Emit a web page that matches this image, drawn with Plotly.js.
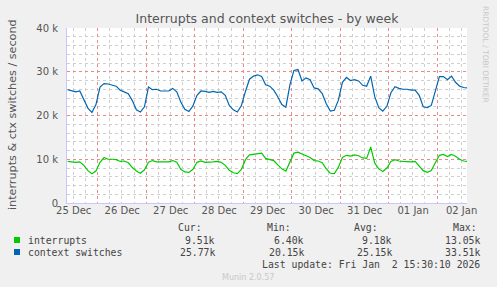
<!DOCTYPE html>
<html>
<head>
<meta charset="utf-8">
<script src="https://cdn.plot.ly/plotly-3.0.1.min.js"></script>
<style>
html,body{margin:0;padding:0;background:#F0F0F0;}
#chart{width:497px;height:287px;}
</style>
</head>
<body>
<div id="chart"></div>
<script>
// ---- data (2-hour samples starting 2025-12-25 09:00) ----
var startTime = "2025-12-25T09:00:00";
var stepHours = 2;
var interrupts = [
 9.5,9.4,9.3,9.4,8.6,7.4,6.7,7.3,9.3,10.4,10.0,10.0,9.9,9.5,9.6,9.2,8.1,7.3,6.8,7.6,
 9.3,9.7,9.4,9.4,9.4,9.4,9.7,9.3,7.7,7.1,7.0,7.7,9.3,9.6,9.3,9.3,9.4,9.5,9.3,8.6,
 7.5,6.9,6.7,7.7,9.9,11.0,11.1,11.2,11.4,10.2,10.0,9.7,8.7,7.8,7.3,9.5,11.4,11.6,11.2,10.9,
 10.4,9.7,9.6,9.2,7.8,6.8,6.7,8.2,10.4,10.9,10.7,11.0,10.8,10.3,10.2,12.8,9.1,7.8,7.2,8.0,
 9.5,9.9,9.6,9.5,9.4,9.4,9.5,8.5,7.4,7.0,7.4,9.2,10.9,11.1,10.6,11.1,10.7,10.0,9.6,9.5
];
var contextSwitches = [
 25.9,25.7,25.4,25.6,23.6,21.7,20.7,22.5,26.5,27.3,27.2,26.9,26.7,25.8,25.4,25.0,23.4,21.3,20.8,22.0,
 26.5,25.9,26.0,25.6,25.6,25.6,26.2,25.4,23.1,21.4,20.9,22.2,24.6,25.6,25.5,25.3,25.5,25.3,25.4,24.6,
 22.3,21.3,20.8,22.3,25.5,28.3,29.0,29.3,28.9,27.0,26.7,25.8,24.3,22.5,21.9,27.0,30.3,30.5,27.9,28.6,
 28.2,26.3,26.1,25.0,22.7,21.0,21.2,23.5,27.6,28.7,28.0,28.2,27.9,26.9,26.7,29.0,24.3,21.8,21.0,22.1,
 25.2,26.6,26.2,26.0,26.0,25.8,25.8,24.6,22.0,21.8,22.3,25.5,28.9,28.9,28.2,29.0,27.6,26.7,26.4,26.3
];
var dayDates = ["2025-12-25","2025-12-26","2025-12-27","2025-12-28","2025-12-29",
                "2025-12-30","2025-12-31","2026-01-01","2026-01-02"];
var dayLabels = ["25 Dec","26 Dec","27 Dec","28 Dec","29 Dec","30 Dec","31 Dec","01 Jan","02 Jan"];
var quarterHours = ["06:00", "12:00", "18:00"];
var yTickVals = [0, 10000, 20000, 30000, 40000];
var yTickText = ["0", "10 k", "20 k", "30 k", "40 k"];
var seriesNames = ["interrupts", "context switches"];
var seriesColors = ["#00CC00", "#0066B3"];
var statHeaders = ["Cur:", "Min:", "Avg:", "Max:"];
var statInterrupts = ["9.51k", "6.40k", "9.18k", "13.05k"];
var statContext = ["25.77k", "20.15k", "25.15k", "33.51k"];
var titleText = "Interrupts and context switches - by week";
var yTitleText = "interrupts & ctx switches / second";
var lastUpdate = "Last update: Fri Jan  2 15:30:10 2026";

var W = 497, H = 287, ML = 67, MR = 30, MT = 28, MB = 84;
var PW = W - ML - MR, PH = H - MT - MB;
function px(x){return (x - ML) / PW;}
function py(y){return (H - MB - y) / PH;}

// ---- build time axis ----
function pad(n){return (n<10?"0":"")+n;}
function ms(s){return Date.parse(s.replace(" ", "T") + "Z");}
var t0 = ms(startTime);
var times = [];
for (var i = 0; i < interrupts.length; i++) {
  var d = new Date(t0 + i * stepHours * 3600000);
  times.push(d.getUTCFullYear()+"-"+pad(d.getUTCMonth()+1)+"-"+pad(d.getUTCDate())+" "+pad(d.getUTCHours())+":"+pad(d.getUTCMinutes()));
}
function k(arr){return arr.map(function(v){return v*1000;});}
var xRange = ["2025-12-25 08:40", "2026-01-02 14:40"];
var r0 = ms(xRange[0]), msPerPx = (ms(xRange[1]) - r0) / PW;
// snap grid positions to a consistent sub-pixel phase so every dotted line renders alike
function snap(t){ var p = (t - r0) / msPerPx; var q = Math.round(p - 0.75) + 0.75; return r0 + q * msPerPx; }
var noonTicks = dayDates.map(function(s){return s + " 12:00";});
var midnightTicks = dayDates.map(function(s){return snap(ms(s + " 00:00"));});
var minorTicks = [];
dayDates.forEach(function(s){ quarterHours.forEach(function(h){ minorTicks.push(snap(ms(s + " " + h))); }); });

var traces = [
  {x: times, y: k(contextSwitches), type: "scatter", mode: "lines", name: seriesNames[1],
   xaxis: "x", yaxis: "y", line: {color: seriesColors[1], width: 1.2}},
  {x: times, y: k(interrupts), type: "scatter", mode: "lines", name: seriesNames[0],
   xaxis: "x2", yaxis: "y", line: {color: seriesColors[0], width: 1.2}},
  {x: [], y: [], xaxis: "x3", yaxis: "y", type: "scatter", mode: "lines", hoverinfo: "skip", showlegend: false}
];

var mono = {family: "DejaVu Sans Mono", size: 9.8, color: "#444"};
var ann = [];
function addText(text, x, y, anchor, font){
  ann.push({text: text, x: px(x), y: py(y), xref: "paper", yref: "paper",
    xanchor: anchor, yanchor: "middle", showarrow: false, font: font});
}
ann.push({text: yTitleText, x: px(12), y: py(115), xref: "paper", yref: "paper",
  textangle: -90, showarrow: false, xanchor: "center", yanchor: "middle",
  font: {family: "DejaVu Sans", size: 11.2, color: "#555"}});
ann.push({text: "RRDTOOL / TOBI OETIKER", x: px(486), y: py(54), xref: "paper", yref: "paper",
  textangle: 90, showarrow: false, xanchor: "center", yanchor: "middle",
  font: {family: "DejaVu Sans", size: 7.5, color: "#c8c8c8"}});
var hdrRight = [204, 293, 380, 479];
var valRight = [217, 306, 394, 482];
for (var j = 0; j < 4; j++) {
  addText(statHeaders[j], hdrRight[j], 227, "right", mono);
  addText(statInterrupts[j], valRight[j], 240, "right", mono);
  addText(statContext[j], valRight[j], 252, "right", mono);
}
addText(seriesNames[0], 26, 240, "left", mono);
addText(seriesNames[1], 26, 252, "left", mono);
addText(lastUpdate.replace(/  /g, "&nbsp; "), 482, 264, "right", mono);
addText("Munin 2.0.57", 248, 277, "center", {family: "DejaVu Sans", size: 8, color: "#c8c8c8"});

var shapes = [
  {type: "rect", xref: "paper", yref: "paper", x0: px(14), x1: px(20), y0: py(243), y1: py(237),
   fillcolor: seriesColors[0], line: {width: 0}},
  {type: "rect", xref: "paper", yref: "paper", x0: px(14), x1: px(20), y0: py(255), y1: py(249),
   fillcolor: seriesColors[1], line: {width: 0}}
];

var majorGrid = "#e88a8a";
var minorGrid = "#cfcfcf";
var layout = {
  width: W, height: H,
  margin: {l: ML, r: MR, t: MT, b: MB, pad: 0},
  paper_bgcolor: "#F0F0F0", plot_bgcolor: "#FFFFFF",
  showlegend: false,
  title: {text: titleText, x: 0.5, xref: "paper", y: 1 - 19/H, yanchor: "middle",
    font: {family: "DejaVu Sans", size: 12.5, color: "#555"}},
  xaxis: {
    type: "date", range: xRange,
    tickvals: minorTicks, ticktext: minorTicks.map(function(){return "";}),
    ticks: "", showgrid: true, gridcolor: minorGrid, griddash: "dot", gridwidth: 1,
    showline: true, linecolor: "#c8c8ff", linewidth: 1,
    zeroline: false, showticklabels: false
  },
  xaxis2: {
    type: "date", range: xRange, overlaying: "x", matches: "x", side: "bottom",
    tickvals: midnightTicks, showticklabels: false, ticks: "",
    showgrid: true, gridcolor: majorGrid, griddash: "dot", gridwidth: 1,
    showline: false, zeroline: false
  },
  xaxis3: {
    type: "date", range: xRange, overlaying: "x", matches: "x", side: "bottom",
    tickvals: noonTicks, ticktext: dayLabels, ticks: "",
    showgrid: false, showline: false, zeroline: false,
    tickfont: {family: "DejaVu Sans", size: 10, color: "#555"}
  },
  yaxis: {
    range: [0, 40000],
    tickvals: yTickVals, ticktext: yTickText,
    ticks: "", ticklabelstandoff: 6,
    showgrid: true, gridcolor: majorGrid, griddash: "dot", gridwidth: 1,
    minor: {dtick: 2000, showgrid: true, gridcolor: minorGrid, griddash: "dot", gridwidth: 1},
    showline: true, linecolor: "#c8c8ff", linewidth: 1,
    zeroline: false,
    tickfont: {family: "DejaVu Sans", size: 10, color: "#555"}
  },
  annotations: ann,
  shapes: shapes
};

Plotly.newPlot("chart", traces, layout, {staticPlot: true, displayModeBar: false});
</script>
</body>
</html>
